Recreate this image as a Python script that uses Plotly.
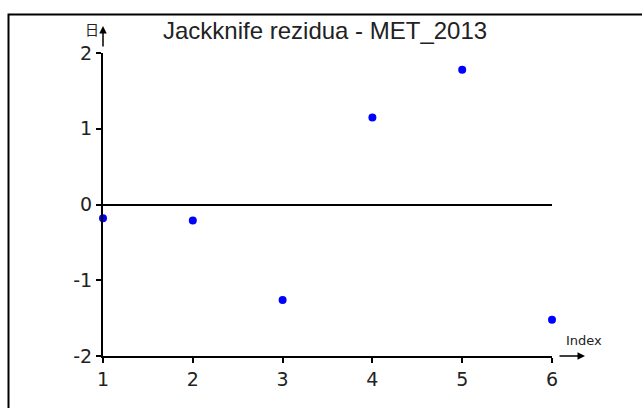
import plotly.graph_objects as go

# Jackknife residuals per observation index
index = [1, 2, 3, 4, 5, 6]
residuals = [-0.18, -0.21, -1.26, 1.15, 1.78, -1.52]

x_ticks = [1, 2, 3, 4, 5, 6]
y_ticks = [-2, -1, 0, 1, 2]
y_tick_text = ["-2", "-1", "0", "1", "2"]

title_text = "Jackknife rezidua - MET_2013"
x_name = "Index"
y_name = "日"

W, H = 642, 408
L, R, T, B = 103, 90, 53, 52
font_family = "Liberation Sans, Arial, sans-serif"
tick_family = "DejaVu Sans, sans-serif"


def px_x(p):
    """Pixel column -> paper x."""
    return (p - L) / (W - L - R)


def px_y(p):
    """Pixel row -> paper y."""
    return (H - B - p) / (H - T - B)


fig = go.Figure(
    go.Scatter(
        x=index,
        y=residuals,
        mode="markers",
        marker=dict(color="#0000ff", size=8),
        cliponaxis=False,
        hoverinfo="x+y",
    )
)

axis_common = dict(
    showgrid=False,
    showline=True,
    linecolor="black",
    linewidth=2,
    ticks="outside",
    ticklen=5,
    tickwidth=2,
    tickcolor="black",
    tickfont=dict(family=tick_family, size=19, color="#222"),
)

fig.update_xaxes(
    range=[1, 6],
    tickvals=x_ticks,
    ticktext=[str(v) for v in x_ticks],
    zeroline=False,
    ticklabelstandoff=0,
    **axis_common,
)
fig.update_yaxes(
    range=[-2, 2],
    tickvals=y_ticks,
    ticktext=y_tick_text,
    zeroline=True,
    zerolinecolor="black",
    zerolinewidth=2,
    ticklabelstandoff=0,
    **axis_common,
)

# Outer frame (top and left edges visible, running off the page)
fig.add_shape(
    type="rect",
    xref="paper", yref="paper",
    x0=px_x(8.5), x1=px_x(700), y0=px_y(460), y1=px_y(14.5),
    line=dict(color="black", width=2),
    fillcolor="rgba(0,0,0,0)",
    layer="below",
)


def label(x, y, text, size, family):
    return dict(xref="paper", yref="paper", x=px_x(x), y=px_y(y),
                xanchor="center", yanchor="middle", text=text,
                showarrow=False, font=dict(family=family, size=size, color="#222"))


annotations = [
    # y-axis arrow
    dict(xref="paper", yref="paper", x=0, y=px_y(26), ax=0, ay=22,
         axref="pixel", ayref="pixel", showarrow=True, arrowhead=2,
         arrowsize=1, arrowwidth=1.5, arrowcolor="black", text=""),
    # x-axis arrow
    dict(xref="paper", yref="paper", x=px_x(585), y=0, ax=-27, ay=0,
         axref="pixel", ayref="pixel", showarrow=True, arrowhead=2,
         arrowsize=1, arrowwidth=1.5, arrowcolor="black", text=""),
    label(584, 340, x_name, 13, tick_family),
    label(92, 29, y_name, 14, "Noto Sans CJK SC, sans-serif"),
    label(325, 30, title_text, 24, font_family),
]

fig.update_layout(
    width=W,
    height=H,
    margin=dict(l=L, r=R, t=T, b=B),
    paper_bgcolor="white",
    plot_bgcolor="white",
    showlegend=False,
    annotations=annotations,
)

fig.write_html("out.html")
